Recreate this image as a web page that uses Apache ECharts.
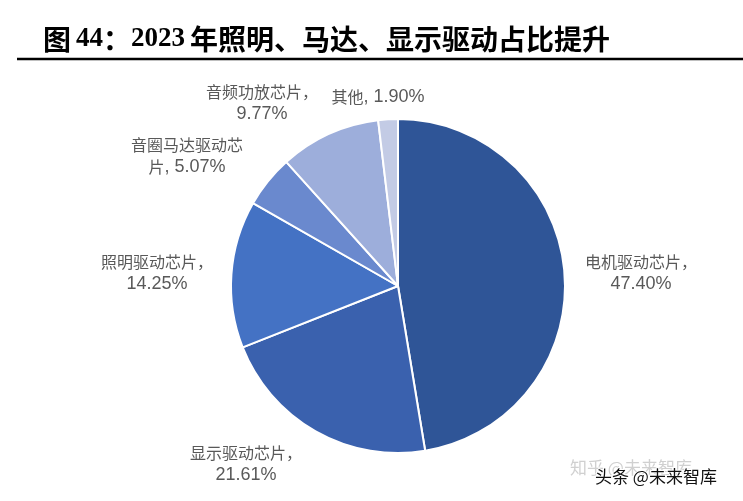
<!DOCTYPE html>
<html><head><meta charset="utf-8">
<script src="https://cdn.jsdelivr.net/npm/echarts@6/dist/echarts.min.js"></script>
<style>html,body{margin:0;padding:0;background:#fff;}#c{width:743px;height:501px;}</style>
</head><body><div id="c"></div>
<script>
var categories = ['电机驱动芯片', '显示驱动芯片', '照明驱动芯片', '音圈马达驱动芯片', '音频功放芯片', '其他'];
var values = [47.40, 21.61, 14.25, 5.07, 9.77, 1.90];
var labelTexts = [
  '{c|电机驱动芯片，}\n{n|47.40%}',
  '{c|显示驱动芯片，}\n{n|21.61%}',
  '{c|照明驱动芯片，}\n{n|14.25%}',
  '{c|音圈马达驱动芯}\n{c|片}{n|, 5.07%}',
  '{c|音频功放芯片，}\n{n|9.77%}',
  '{c|其他}{n|, 1.90%}'
];
var colors = ['#2F5597', '#3A61AE', '#4472C4', '#6A89CE', '#9DAEDB', '#C3CBE5'];
var labelPos = [[641, 273], [246, 464], [157, 273], [187, 156], [262, 103], [378, 97]];

var chart = echarts.init(document.getElementById('c'));
var data = categories.map(function (c, i) {
  return { name: c, value: values[i], itemStyle: { color: colors[i] },
    label: { formatter: labelTexts[i] } };
});
chart.setOption({
  animation: false,
  title: {
    text: '{c|图} {d|44}{c|：}{d|2023} {c|年照明、马达、显示驱动占比提升}',
    left: 38, top: 20,
    textStyle: {
      rich: {
        c: { fontFamily: '"Noto Sans CJK SC"', fontWeight: 'bold', fontSize: 28, color: '#000' },
        d: { fontFamily: '"Liberation Serif"', fontWeight: 'bold', fontSize: 27, color: '#000' }
      }
    }
  },
  graphic: [
    { type: 'line', shape: { x1: 17, y1: 59, x2: 743, y2: 59 }, style: { stroke: '#000', lineWidth: 2.5 } },
    { type: 'text', left: 570, top: 459, style: { text: '知乎 @未来智库', fill: '#d0d0d0', font: '17px "Noto Sans CJK SC"' } },
    { type: 'text', left: 594, top: 467, style: { text: '头条 @未来智库', fill: '#111', stroke: '#fff', lineWidth: 2, font: '17px "Noto Sans CJK SC"' } }
  ],
  series: [{
    type: 'pie',
    center: [398, 286],
    radius: [0, 167],
    startAngle: 90,
    clockwise: true,
    data: data,
    itemStyle: { borderColor: '#fff', borderWidth: 2 },
    label: {
      show: true, position: 'outside', color: '#595959', lineHeight: 22,
      align: 'center',
      rich: {
        c: { fontFamily: '"Noto Sans CJK SC"', fontSize: 16, color: '#595959', lineHeight: 22 },
        n: { fontFamily: '"Liberation Sans"', fontSize: 18, color: '#595959', lineHeight: 22 }
      }
    },
    labelLine: { show: false },
    labelLayout: function (p) {
      var pos = labelPos[p.dataIndex];
      return { x: pos[0], y: pos[1], align: 'center', verticalAlign: 'middle' };
    }
  }]
});
</script></body></html>
